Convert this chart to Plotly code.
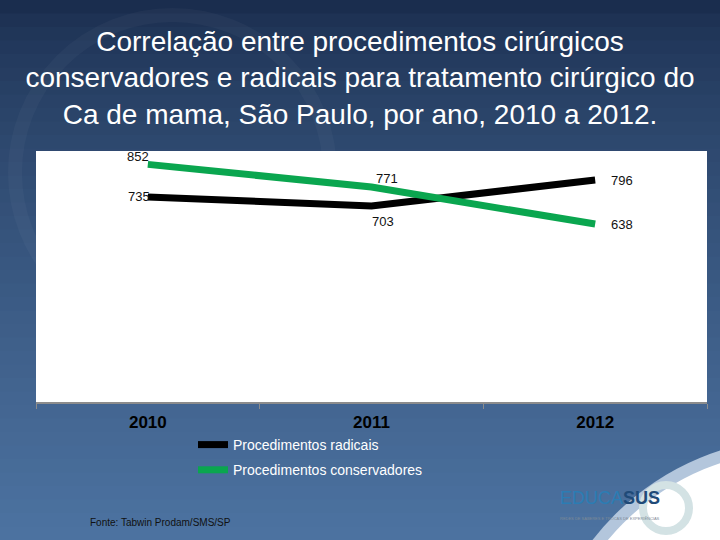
"""Correlação entre procedimentos cirúrgicos conservadores e radicais, São Paulo, 2010-2012."""

import plotly.graph_objects as go

years = ["2010", "2011", "2012"]
radicais = [735, 703, 796]
conservadores = [852, 771, 638]
series_names = ["Procedimentos radicais", "Procedimentos conservadores"]

W, H = 720, 540
L, R, T, B = 36, 13, 151, 138


def px_x(x):
    return (x - L) / (W - L - R)


def px_y(y):
    return (H - B - y) / (H - T - B)


def mix(c1, c2, f):
    return "rgb(%d,%d,%d)" % tuple(round(a + (b - a) * f) for a, b in zip(c1, c2))


fig = go.Figure()
fig.add_trace(go.Scatter(x=years, y=radicais, mode="lines", name=series_names[0],
                         line=dict(color="#000000", width=7), legendgroup="a"))
fig.add_trace(go.Scatter(x=years, y=conservadores, mode="lines", name=series_names[1],
                         line=dict(color="#0aa64f", width=7), legendgroup="b"))

# data labels (x given as category index)
label_shifts = {
    0: [(-9, 1), (11, -16), (27, 0)],
    1: [(-10, 8), (15, 8), (27, 0)],
}
for i, vals in enumerate([radicais, conservadores]):
    for j, v in enumerate(vals):
        xs, ys = label_shifts[i][j]
        fig.add_annotation(x=j, y=v, xref="x", yref="y", text=str(v), showarrow=False,
                           xshift=xs, yshift=ys,
                           font=dict(family="Liberation Sans", size=13, color="#111111"))

# slide background gradient
shapes = []
top, bottom = (26, 45, 78), (76, 114, 160)
n = 40
for k in range(n):
    y0 = k * H / n
    y1 = (k + 1) * H / n + 1
    shapes.append(dict(type="rect", xref="paper", yref="paper", layer="below",
                       x0=px_x(0), x1=px_x(W), y0=px_y(y1), y1=px_y(y0),
                       fillcolor=mix(top, bottom, (k / (n - 1)) ** 0.7), line=dict(width=0)))
# faint swirl on the left
shapes.append(dict(type="circle", xref="paper", yref="paper", layer="below",
                   x0=px_x(15), x1=px_x(330), y0=px_y(330), y1=px_y(15),
                   line=dict(color="rgba(255,255,255,0.03)", width=14)))
# plot area white box
shapes.append(dict(type="rect", xref="paper", yref="paper", layer="below",
                   x0=0, x1=1, y0=0, y1=1, fillcolor="white", line=dict(width=0)))
# logo corner
shapes.append(dict(type="circle", xref="paper", yref="paper", layer="below",
                   x0=px_x(800 - 262), x1=px_x(800 + 262), y0=px_y(700 + 262), y1=px_y(700 - 262),
                   fillcolor="#b3c6dc", line=dict(width=0)))
shapes.append(dict(type="circle", xref="paper", yref="paper", layer="below",
                   x0=px_x(800 - 250), x1=px_x(800 + 250), y0=px_y(700 + 250), y1=px_y(700 - 250),
                   fillcolor="white", line=dict(width=0)))
shapes.append(dict(type="circle", xref="paper", yref="paper", layer="below",
                   x0=px_x(643), x1=px_x(689), y0=px_y(531), y1=px_y(485),
                   line=dict(color="#d3e2e4", width=8)))
fig.update_layout(shapes=shapes)

fig.add_annotation(xref="paper", yref="paper", x=px_x(662), y=px_y(510), showarrow=False,
                   text="EDUCA<b><span style='color:#1f4a78'>SUS</span></b>",
                   font=dict(family="Liberation Sans", size=18, color="#2b7db4"))
fig.add_annotation(xref="paper", yref="paper", x=px_x(662), y=px_y(523), showarrow=False,
                   text="REDES DE SABERES E TROCAS DE EXPERIÊNCIAS",
                   font=dict(family="Liberation Sans", size=4, color="#7d8a96"))
fig.add_annotation(xref="paper", yref="paper", x=px_x(88), y=px_y(530), xanchor="left",
                   showarrow=False, text="Fonte: Tabwin Prodam/SMS/SP",
                   font=dict(family="Liberation Sans", size=10, color="#111111"))

fig.update_layout(
    width=W, height=H,
    margin=dict(l=L, r=R, t=T, b=B),
    paper_bgcolor="#3a5c88",
    plot_bgcolor="white",
    title=dict(text="Correlação entre procedimentos cirúrgicos<br>conservadores e radicais para tratamento cirúrgico do<br>Ca de mama, São Paulo, por ano, 2010 a 2012.",
               x=0.5, xanchor="center", y=1 - 51 / H, yanchor="middle",
               font=dict(family="Liberation Sans", size=28, color="white")),
    xaxis=dict(type="category", range=[-0.5, 2.5], showgrid=False, zeroline=False,
               showline=True, linecolor="#8c8c8c", linewidth=2,
               ticks="outside", tickson="boundaries", ticklen=5, tickcolor="#8c8c8c",
               ticklabelstandoff=4,
               tickfont=dict(family="Liberation Sans", size=17,
                             color="#000000", weight="bold")),
    yaxis=dict(range=[0, 900], visible=False),
    showlegend=True,
    legend=dict(x=px_x(193), y=px_y(429), xanchor="left", yanchor="top",
                bgcolor="rgba(0,0,0,0)", tracegroupgap=4,
                font=dict(family="Liberation Sans", size=14, color="white")),
)

fig.write_html("out.html", config={"displayModeBar": False},
               post_script="document.body.style.margin='0';")
